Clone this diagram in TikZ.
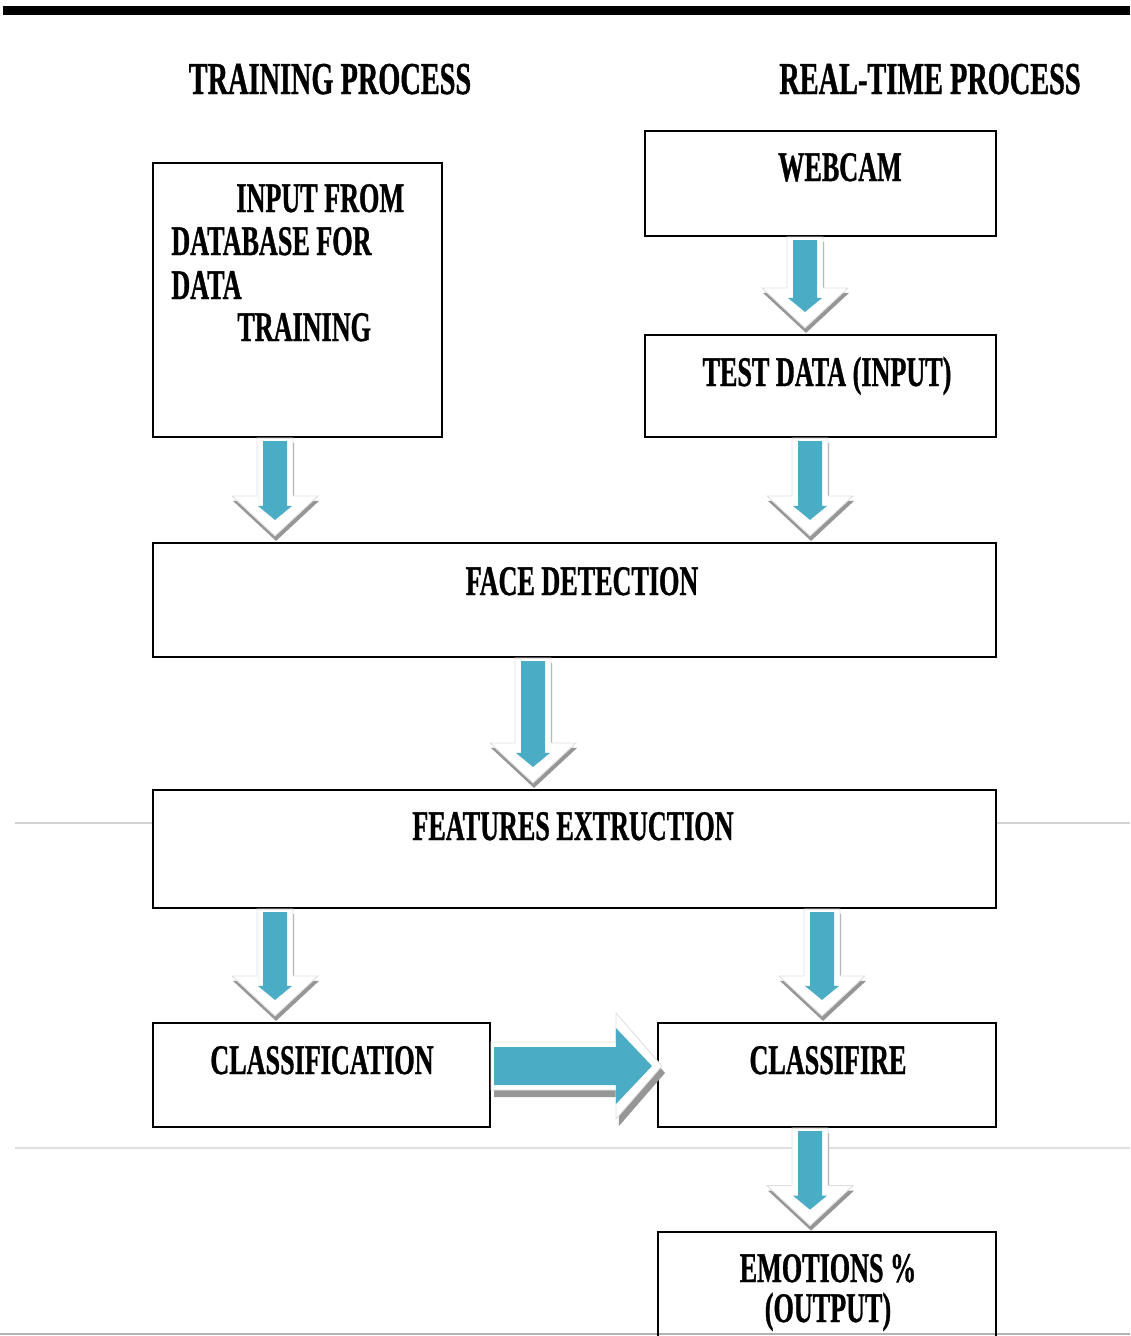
\documentclass[tikz,border=0pt]{standalone}
\usepackage{fontspec}
\newfontfamily\flowfont{Liberation Serif}[FakeStretch=0.62, FakeBold=0.8]
\usetikzlibrary{calc, fit, positioning}
\definecolor{arrblue}{RGB}{74,172,197}
\definecolor{arrshadow}{RGB}{150,150,150}
\newcommand{\drawe}{\draw[line width=1.2pt]}
% outline of a down arrow from (s) to (e), moved by (#2,#3)
\newcommand{\downshape}[3]{\fill[#1] ($(s)+(-18+#2,#3)$) -- ($(e)+(-18+#2,-40+#3)$) -- ($(e)+(-43+#2,-40+#3)$) -- ($(e)+(#2,#3)$) -- ($(e)+(43+#2,-40+#3)$) -- ($(e)+(18+#2,-40+#3)$) -- ($(s)+(18+#2,#3)$) -- cycle;}
% outline of a right arrow from (s) to (e), moved by (#2,#3)
\newcommand{\rightshape}[3]{\fill[#1] ($(s)+(#2,-24+#3)$) -- ($(e)+(-46+#2,-24+#3)$) -- ($(e)+(-46+#2,-53+#3)$) -- ($(e)+(#2,#3)$) -- ($(e)+(-46+#2,53+#3)$) -- ($(e)+(-46+#2,24+#3)$) -- ($(s)+(#2,24+#3)$) -- cycle;}
% block arrow down: x, from node, to node
\newcommand{\downarr}[3]{%
  \coordinate (ax) at (#1,0);
  \coordinate (s) at (ax |- #2.south);
  \coordinate (e) at ($(ax |- #3.north)+(0,-6)$);
  \downshape{arrshadow}{1}{5}
  \downshape{white, draw=gray!25, line width=.5pt}{0}{0}
  \fill[arrblue] ($(s)+(-12,3)$) -- ($(e)+(-12,-30)$) -- ($(e)+(-17,-30)$) -- ($(e)+(0,-16)$) -- ($(e)+(17,-30)$) -- ($(e)+(12,-30)$) -- ($(s)+(12,3)$) -- cycle;
}
% block arrow right: y, from node, to node
\newcommand{\rightarr}[3]{%
  \coordinate (ay) at (0,#1);
  \coordinate (s) at (#2.east |- ay);
  \coordinate (e) at ($(#3.west |- ay)+(5,0)$);
  \rightshape{arrshadow}{3}{7}
  \rightshape{white, draw=gray!25, line width=.5pt}{0}{0}
  \fill[arrblue] ($(s)+(3,-19)$) -- ($(e)+(-46,-19)$) -- ($(e)+(-46,-38)$) -- ($(e)+(-10,0)$) -- ($(e)+(-46,38)$) -- ($(e)+(-46,19)$) -- ($(s)+(3,19)$) -- cycle;
}

\begin{document}
\begin{tikzpicture}[x=0.02cm, y=-0.02cm,
  box/.style={draw, line width=1.2pt, inner sep=0pt},
  txt/.style={font={\flowfont\bfseries\fontsize{24}{25}\selectfont}, inner sep=0pt},
  title/.style={font={\flowfont\bfseries\fontsize{26}{27}\selectfont}, inner sep=0pt}]
\useasboundingbox (0,0) rectangle (1130,1336);

% rules of the page
\fill (3,6) rectangle (1130,15);
\draw[gray!35, line width=1pt] (15,823) -- (153,823);
\draw[gray!35, line width=1pt] (996,823) -- (1130,823);
\draw[gray!25, line width=1pt] (15,1148) -- (1130,1148);
\draw[gray!60, line width=1pt] (0,1334) -- (1130,1334);

% titles
\node[title, anchor=base] (trtitle) at (330,94) {TRAINING PROCESS};
\node[title, anchor=base] (rttitle) at (930,94) {REAL-TIME PROCESS};

% boxes
\node[box, fit={(153,163) (442,437)}] (input) {};
\node[box, fit={(645,131) (996,236)}] (webcam) {};
\node[box, fit={(645,335) (996,437)}] (test) {};
\node[box, fit={(153,543) (996,657)}] (face) {};
\node[box, fit={(153,790) (996,908)}] (feat) {};
\node[box, fit={(153,1023) (490,1127)}] (clsf) {};
\node[box, fit={(658,1023) (996,1127)}] (clsr) {};
\node[fit={(658,1232) (996,1340)}, inner sep=0pt] (emo) {};
\drawe (emo.south west) |- (emo.north east) -- (emo.south east);

% texts
\node[txt, anchor=base west] (in1) at (236,212) {INPUT FROM};
\node[txt, anchor=base west] (in2) at (171,255) {DATABASE FOR};
\node[txt, anchor=base west] (in3) at (171,299) {DATA};
\node[txt, anchor=base west] (in4) at (237,341) {TRAINING};
\node[txt, anchor=base] (webtxt) at (840,181) {WEBCAM};
\node[txt, anchor=base] (testtxt) at (827,386) {TEST DATA (INPUT)};
\node[txt, anchor=base] (facetxt) at (582,595) {FACE DETECTION};
\node[txt, anchor=base] (feattxt) at (573,840) {FEATURES EXTRUCTION};
\node[txt, anchor=base] (clsftxt) at (322,1074) {CLASSIFICATION};
\node[txt, anchor=base] (clsrtxt) at (828,1074) {CLASSIFIRE};
\node[txt, anchor=base] (emo1) at (828,1282) {EMOTIONS \%};
\node[txt, anchor=base] (emo2) at (828,1322) {(OUTPUT)};

% block arrows
\downarr{275}{input}{face}
\downarr{805}{webcam}{test}
\downarr{810}{test}{face}
\downarr{533}{face}{feat}
\downarr{275}{feat}{clsf}
\downarr{822}{feat}{clsr}
\rightarr{1066}{clsf}{clsr}
\downarr{810}{clsr}{emo}

\end{tikzpicture}
\end{document}
